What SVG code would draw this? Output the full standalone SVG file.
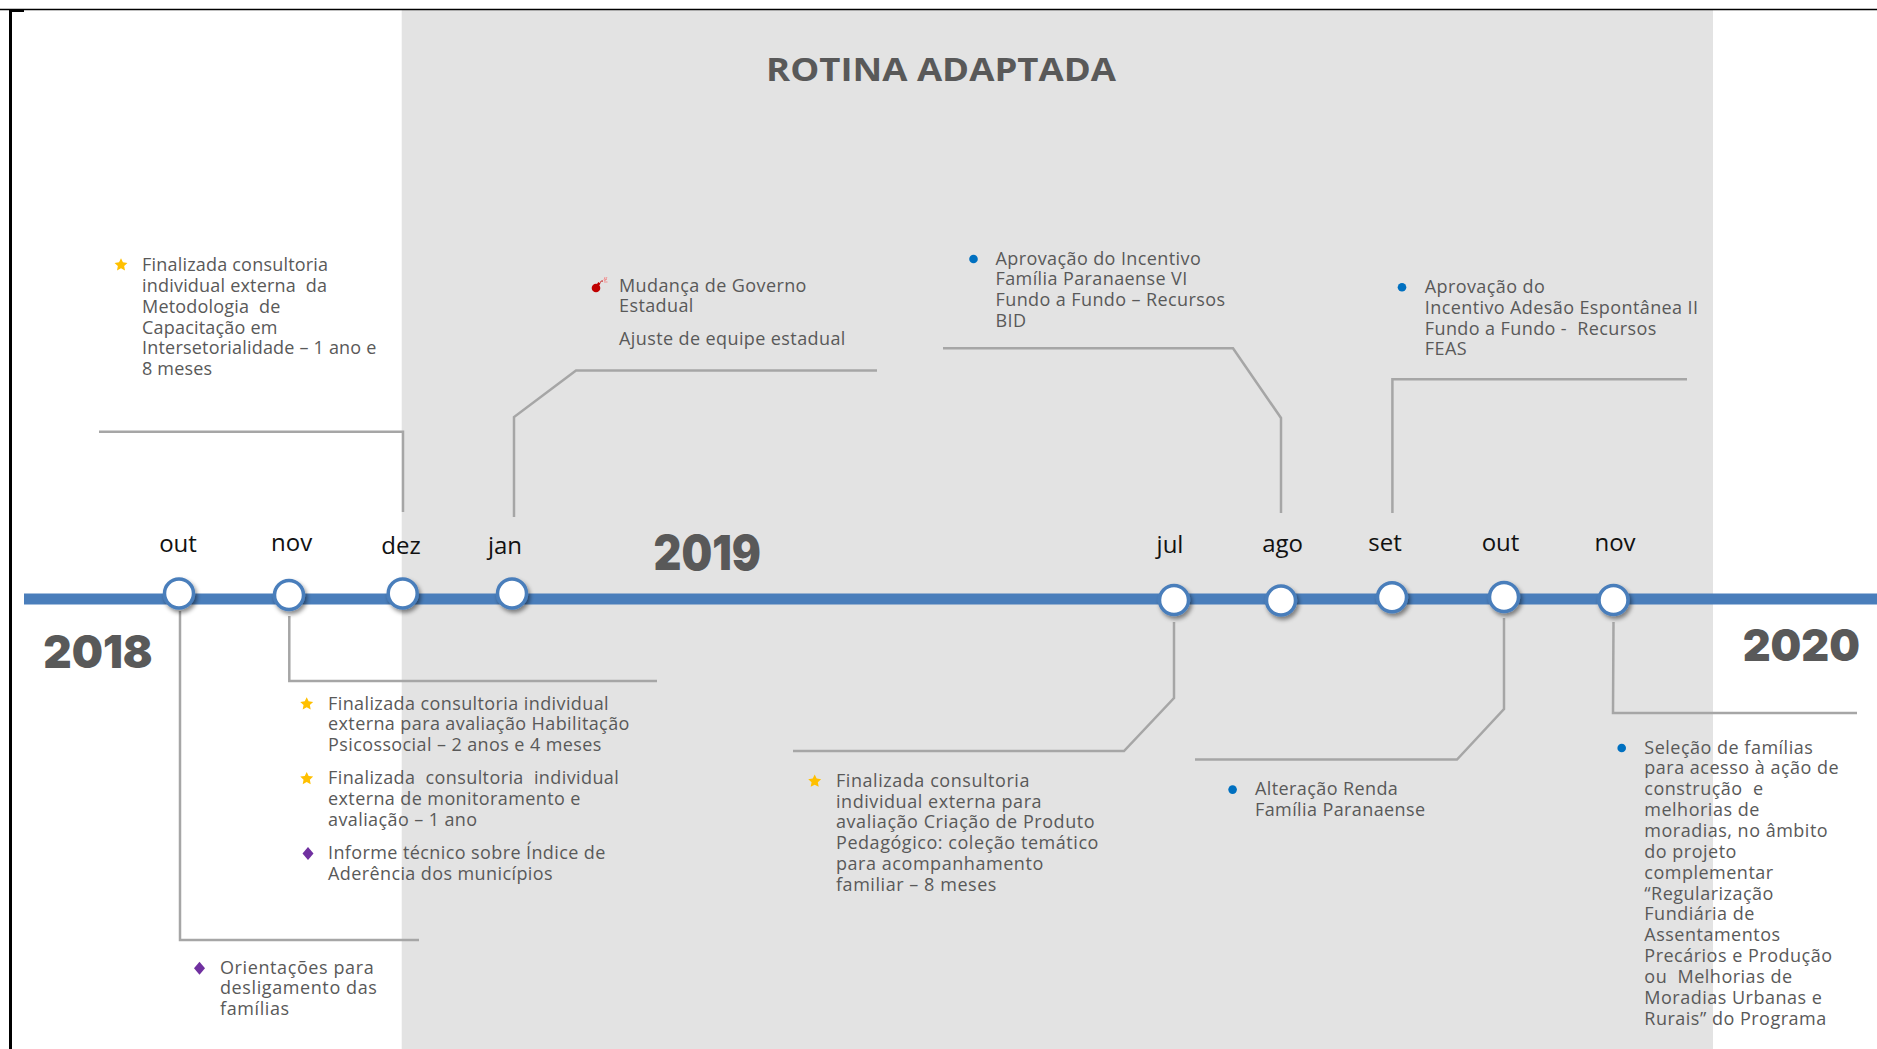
<svg xmlns="http://www.w3.org/2000/svg" width="1877" height="1049" viewBox="0 0 1877 1049">
<defs>
<style>
.t{font-family:"Open Sans","Liberation Sans",sans-serif;font-size:18px;fill:#595959;letter-spacing:0.4px;white-space:pre}
.tw{letter-spacing:0.5px}
.m{font-family:"Open Sans","Liberation Sans",sans-serif;font-size:24px;fill:#111;text-anchor:middle}
.yr{font-family:Inter,"Liberation Sans",sans-serif;font-weight:900;fill:#595959}
.ttl{font-family:"Open Sans","Liberation Sans",sans-serif;font-weight:700;font-size:33px;fill:#595959}
.node{fill:#fff;stroke:#4a7ebb;stroke-width:3.5}
.conn{fill:none;stroke:#a6a6a6;stroke-width:2.5}
.star{fill:#ffc000}
.dia{fill:#7030a0}
.dot{fill:#0070c0}
</style>
<filter id="sh" x="-50%" y="-50%" width="200%" height="200%">
<feDropShadow dx="2" dy="3" stdDeviation="2" flood-color="#000" flood-opacity="0.45"/>
</filter>
<polygon id="starshape" points="0,-6.8 1.95,-2.7 6.45,-2.1 3.15,1.03 4,5.5 0,3.35 -4,5.5 -3.15,1.03 -6.45,-2.1 -1.95,-2.7"/>
<polygon id="diashape" points="0,-6.5 5.5,0 0,6.5 -5.5,0"/>
</defs>

<rect x="0" y="0" width="1877" height="1049" fill="#fff"/>
<rect x="401.7" y="10" width="1311.3" height="1039" fill="#e3e3e3"/>
<line x1="0" y1="9.5" x2="1877" y2="9.5" stroke="#000" stroke-width="1.5"/>
<line x1="10.5" y1="9" x2="10.5" y2="1049" stroke="#000" stroke-width="3"/>
<rect x="9" y="9" width="15" height="3" fill="#000"/>

<text class="ttl" x="766" y="80.7" textLength="350" lengthAdjust="spacingAndGlyphs">ROTINA ADAPTADA</text>

<g id="connectors">
<path class="conn" d="M99,431.7 H403 V512"/>
<path class="conn" d="M514,517 V417 L576,370.5 H877"/>
<path class="conn" d="M943,348.3 H1233 L1281,418 V513"/>
<path class="conn" d="M1392.4,513 V379.3 H1687"/>
<path class="conn" d="M180,611 V940 H419"/>
<path class="conn" d="M289.3,616 V681 H657"/>
<path class="conn" d="M1174,622 V698 L1124,751 H793"/>
<path class="conn" d="M1504,618 V709 L1457,759.5 H1195"/>
<path class="conn" d="M1613.5,622 L1613,713 H1857"/>
</g>

<g id="timeline">
<rect x="24" y="593.5" width="1853" height="11" fill="#4a7ebb"/>
</g>

<g id="years">
<text class="yr" x="43.3" y="668.3" font-size="46" textLength="109.4" lengthAdjust="spacingAndGlyphs">2018</text>
<text class="yr" x="653.6" y="570" font-size="48" textLength="107.4" lengthAdjust="spacingAndGlyphs">2019</text>
<text class="yr" x="1742.7" y="661" font-size="44" textLength="117.3" lengthAdjust="spacingAndGlyphs">2020</text>
</g>

<g id="m-out18"><circle class="node" cx="179" cy="593.5" r="14.5" filter="url(#sh)"/><text class="m" x="178" y="551.7">out</text></g>
<g id="m-nov18"><circle class="node" cx="289" cy="595" r="14.5" filter="url(#sh)"/><text class="m" x="291.7" y="551">nov</text></g>
<g id="m-dez18"><circle class="node" cx="402.7" cy="593.5" r="14.5" filter="url(#sh)"/><text class="m" x="401" y="554">dez</text></g>
<g id="m-jan19"><circle class="node" cx="512" cy="593.5" r="14.5" filter="url(#sh)"/><text class="m" x="505" y="553.5">jan</text></g>
<g id="m-jul19"><circle class="node" cx="1174" cy="600" r="14.5" filter="url(#sh)"/><text class="m" x="1170" y="552.6">jul</text></g>
<g id="m-ago19"><circle class="node" cx="1281" cy="600.5" r="14.5" filter="url(#sh)"/><text class="m" x="1282.6" y="552">ago</text></g>
<g id="m-set19"><circle class="node" cx="1392" cy="597.3" r="14.5" filter="url(#sh)"/><text class="m" x="1385" y="551">set</text></g>
<g id="m-out19"><circle class="node" cx="1504" cy="597" r="14.5" filter="url(#sh)"/><text class="m" x="1500.5" y="550.7">out</text></g>
<g id="m-nov19"><circle class="node" cx="1613.5" cy="600" r="14.5" filter="url(#sh)"/><text class="m" x="1615" y="550.7">nov</text></g>

<g id="ev-metodologia">
<use href="#starshape" class="star" x="121" y="265"/>
<text class="t" style="letter-spacing:0.2px"><tspan x="142" y="271">Finalizada consultoria</tspan><tspan x="142" y="291.9">individual externa  da</tspan><tspan x="142" y="312.7">Metodologia  de</tspan><tspan x="142" y="333.6">Capacitação em</tspan><tspan x="142" y="354.4">Intersetorialidade – 1 ano e</tspan><tspan x="142" y="375.3">8 meses</tspan></text>
</g>

<g id="ev-governo">
<g transform="translate(596,288)">
<circle cx="0" cy="0" r="4.3" fill="#c00000"/>
<rect x="1.2" y="-5.6" width="2.6" height="3" fill="#c00000" transform="rotate(35 2.5 -4)"/>
<path d="M4,-5.5 Q5.5,-7.5 7,-7" fill="none" stroke="#c00000" stroke-width="1"/>
<path d="M8,-7 L11,-9 M8,-6 L11.5,-6 M8,-8 L9,-11 M9,-7.5 L11,-11" fill="none" stroke="#f28b8b" stroke-width="0.9"/>
</g>
<text class="t"><tspan x="619" y="291.5">Mudança de Governo</tspan><tspan x="619" y="312.3">Estadual</tspan><tspan x="619" y="345">Ajuste de equipe estadual</tspan></text>
</g>

<g id="ev-incentivo-vi">
<circle class="dot" cx="973.5" cy="259" r="4.3"/>
<text class="t"><tspan x="995.5" y="264.5">Aprovação do Incentivo</tspan><tspan x="995.5" y="285.4">Família Paranaense VI</tspan><tspan x="995.5" y="306.2">Fundo a Fundo – Recursos</tspan><tspan x="995.5" y="327.1">BID</tspan></text>
</g>

<g id="ev-adesao">
<circle class="dot" cx="1402" cy="287.3" r="4.3"/>
<text class="t"><tspan x="1424.8" y="292.8">Aprovação do</tspan><tspan x="1424.8" y="313.7">Incentivo Adesão Espontânea II</tspan><tspan x="1424.8" y="334.5">Fundo a Fundo -  Recursos</tspan><tspan x="1424.8" y="355.4">FEAS</tspan></text>
</g>

<g id="ev-nov18">
<use href="#starshape" class="star" x="306.7" y="704"/>
<use href="#starshape" class="star" x="306.7" y="778.7"/>
<use href="#diashape" class="dia" x="308" y="853.5"/>
<text class="t"><tspan x="328" y="709.6">Finalizada consultoria individual</tspan><tspan x="328" y="730.4">externa para avaliação Habilitação</tspan><tspan x="328" y="751.2">Psicossocial – 2 anos e 4 meses</tspan><tspan x="328" y="784.3">Finalizada  consultoria  individual</tspan><tspan x="328" y="805.1">externa de monitoramento e</tspan><tspan x="328" y="825.9">avaliação – 1 ano</tspan><tspan x="328" y="859.2">Informe técnico sobre Índice de</tspan><tspan x="328" y="880">Aderência dos municípios</tspan></text>
</g>

<g id="ev-out18">
<use href="#diashape" class="dia" x="199.5" y="968.3"/>
<text class="t" style="letter-spacing:0.6px"><tspan x="220" y="973.6">Orientações para</tspan><tspan x="220" y="994.4">desligamento das</tspan><tspan x="220" y="1015.2">famílias</tspan></text>
</g>

<g id="ev-jul19">
<use href="#starshape" class="star" x="814.7" y="781.3"/>
<text class="t" style="letter-spacing:0.55px"><tspan x="836" y="786.8">Finalizada consultoria</tspan><tspan x="836" y="807.6">individual externa para</tspan><tspan x="836" y="828.4">avaliação Criação de Produto</tspan><tspan x="836" y="849.2">Pedagógico: coleção temático</tspan><tspan x="836" y="870">para acompanhamento</tspan><tspan x="836" y="890.8">familiar – 8 meses</tspan></text>
</g>

<g id="ev-out19">
<circle class="dot" cx="1232.6" cy="789.6" r="4.3"/>
<text class="t"><tspan x="1255" y="795.1">Alteração Renda</tspan><tspan x="1255" y="815.9">Família Paranaense</tspan></text>
</g>

<g id="ev-nov19">
<circle class="dot" cx="1621.7" cy="748" r="4.3"/>
<text class="t tw"><tspan x="1644.3" y="753.5">Seleção de famílias</tspan><tspan x="1644.3" y="774.4">para acesso à ação de</tspan><tspan x="1644.3" y="795.2">construção  e</tspan><tspan x="1644.3" y="816.1">melhorias de</tspan><tspan x="1644.3" y="836.9">moradias, no âmbito</tspan><tspan x="1644.3" y="857.8">do projeto</tspan><tspan x="1644.3" y="878.6">complementar</tspan><tspan x="1644.3" y="899.5">“Regularização</tspan><tspan x="1644.3" y="920.3">Fundiária de</tspan><tspan x="1644.3" y="941.2">Assentamentos</tspan><tspan x="1644.3" y="962">Precários e Produção</tspan><tspan x="1644.3" y="982.9">ou  Melhorias de</tspan><tspan x="1644.3" y="1003.7">Moradias Urbanas e</tspan><tspan x="1644.3" y="1024.6">Rurais” do Programa</tspan></text>
</g>
</svg>
